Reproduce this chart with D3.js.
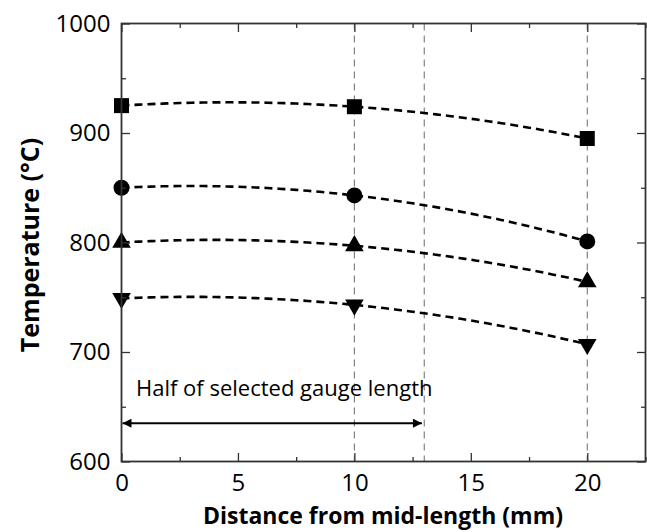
<!DOCTYPE html>
<html>
<head>
<meta charset="utf-8">
<script src="https://cdn.jsdelivr.net/npm/d3@7"></script>
<style>
  html, body { margin: 0; padding: 0; background: #fff; }
  svg { display: block; font-family: "Open Sans", "DejaVu Sans", sans-serif; }
</style>
</head>
<body>
<svg id="chart" width="647" height="532"></svg>
<script>
// Measured temperatures (°C) at three distances from the specimen mid-length (mm)
const distances = [0, 10, 20];
const squareTemps   = [925, 924, 895];
const circleTemps   = [850, 843, 801];
const triUpTemps    = [800, 797, 764];
const triDownTemps  = [749, 743, 707];

const xTicks = [0, 5, 10, 15, 20];
const yTicks = [600, 700, 800, 900, 1000];
const guideLines = [10, 13, 20];          // vertical reference lines
const gaugeHalf = [0, 12.9];              // arrow span: half of selected gauge length
const gaugeLabel = "Half of selected gauge length";

const series = [
  { name: "square",  temps: squareTemps,  symbol: d3.symbolSquare },
  { name: "circle",  temps: circleTemps,  symbol: d3.symbolCircle },
  { name: "triUp",   temps: triUpTemps,   symbol: d3.symbolTriangle },
  { name: "triDown", temps: triDownTemps, symbol: d3.symbolTriangle, flip: true }
];

const svg = d3.select("#chart");
const m = { left: 121.5, right: 645.5, top: 23.5, bottom: 461.5 };

const x = d3.scaleLinear().domain([0, 22.5]).range([m.left, m.right]);
const y = d3.scaleLinear().domain([600, 1000]).range([m.bottom, m.top]);

const axisColor = "#333";

// vertical dashed reference lines
svg.append("g").selectAll("line").data(guideLines).join("line")
  .attr("x1", d => x(d)).attr("x2", d => x(d))
  .attr("y1", y(1000)).attr("y2", y(600))
  .attr("stroke", "#777").attr("stroke-width", 1.1)
  .attr("stroke-dasharray", "7,5");

// quadratic trend through each series (exact fit for three points)
function quadFit(xs, ys) {
  const [x0, x1, x2] = xs, [y0, y1, y2] = ys;
  return t => y0 * (t - x1) * (t - x2) / ((x0 - x1) * (x0 - x2))
            + y1 * (t - x0) * (t - x2) / ((x1 - x0) * (x1 - x2))
            + y2 * (t - x0) * (t - x1) / ((x2 - x0) * (x2 - x1));
}
const line = d3.line().x(d => x(d[0])).y(d => y(d[1]));
series.forEach(s => {
  const f = quadFit(distances, s.temps);
  const pts = d3.range(0, 20.001, 0.25).map(t => [t, f(t)]);
  svg.append("path").datum(pts)
    .attr("d", line)
    .attr("fill", "none").attr("stroke", "#000")
    .attr("stroke-width", 2.6).attr("stroke-dasharray", "8,5");
});

// markers
series.forEach(s => {
  const size = s.symbol === d3.symbolSquare ? 225 : (s.symbol === d3.symbolCircle ? 200 : 150);
  const sym = d3.symbol().type(s.symbol).size(size);
  svg.append("g").selectAll("path").data(distances.map((d, i) => [d, s.temps[i]])).join("path")
    .attr("d", sym)
    .attr("transform", d => `translate(${x(d[0])},${y(d[1])})${s.flip ? " rotate(180)" : ""}`)
    .attr("fill", "#000");
});

// arrow for gauge length
const defs = svg.append("defs");
defs.append("marker").attr("id", "ahEnd").attr("viewBox", "0 0 10 10")
  .attr("refX", 10).attr("refY", 5).attr("markerWidth", 15).attr("markerHeight", 9)
  .attr("markerUnits", "userSpaceOnUse").attr("orient", "auto")
  .append("path").attr("d", "M0,0 L10,5 L0,10 Z").attr("fill", "#000");
defs.append("marker").attr("id", "ahStart").attr("viewBox", "0 0 10 10")
  .attr("refX", 0).attr("refY", 5).attr("markerWidth", 15).attr("markerHeight", 9)
  .attr("markerUnits", "userSpaceOnUse").attr("orient", "auto")
  .append("path").attr("d", "M10,0 L0,5 L10,10 Z").attr("fill", "#000");
svg.append("line")
  .attr("x1", x(gaugeHalf[0]) + 1).attr("x2", x(gaugeHalf[1]))
  .attr("y1", y(635)).attr("y2", y(635))
  .attr("stroke", "#000").attr("stroke-width", 2)
  .attr("marker-start", "url(#ahStart)").attr("marker-end", "url(#ahEnd)");
svg.append("text").attr("x", 136).attr("y", 395.5).text(gaugeLabel)
  .attr("font-size", 22).attr("fill", "#000");

// axes with inward ticks, mirrored on top and right
const minorX = d3.range(0, 22.6, 2.5).filter(v => v % 5 !== 0);
const minorY = d3.range(650, 1000, 100);
function minorTicks(gen, tr, vals) {
  const g = svg.append("g").attr("transform", tr)
    .call(gen.tickValues(vals).tickSize(-4.5).tickFormat(""));
  g.select(".domain").remove();
}
minorTicks(d3.axisBottom(x), `translate(0,${m.bottom})`, minorX);
minorTicks(d3.axisTop(x), `translate(0,${m.top})`, minorX);
minorTicks(d3.axisLeft(y), `translate(${m.left},0)`, minorY);
minorTicks(d3.axisRight(y), `translate(${m.right},0)`, minorY);

const gx = svg.append("g").attr("transform", `translate(0,${m.bottom})`)
  .call(d3.axisBottom(x).tickValues(xTicks).tickSize(-8.5).tickPadding(12).tickFormat(d3.format("d")));
const gxTop = svg.append("g").attr("transform", `translate(0,${m.top})`)
  .call(d3.axisTop(x).tickValues(xTicks).tickSize(-8.5).tickFormat(""));
const gy = svg.append("g").attr("transform", `translate(${m.left},0)`)
  .call(d3.axisLeft(y).tickValues(yTicks).tickSize(-8.5).tickPadding(11).tickFormat(d3.format("d")));
const gyRight = svg.append("g").attr("transform", `translate(${m.right},0)`)
  .call(d3.axisRight(y).tickValues(yTicks).tickSize(-8.5).tickFormat(""));
[gx, gxTop, gy, gyRight].forEach(g => g.select(".domain").remove());

svg.selectAll(".tick line").attr("stroke", axisColor).attr("stroke-width", 1.3);
svg.selectAll(".tick text").attr("font-size", 24).attr("fill", "#000")
  .attr("font-family", "'Open Sans', sans-serif");

// frame
svg.append("rect").attr("x", m.left).attr("y", m.top)
  .attr("width", m.right - m.left).attr("height", m.bottom - m.top)
  .attr("fill", "none").attr("stroke", axisColor).attr("stroke-width", 1.8);

// axis titles
svg.append("text").attr("x", 383).attr("y", 524).attr("text-anchor", "middle")
  .attr("font-size", 23).attr("font-weight", "bold").text("Distance from mid-length (mm)");
svg.append("text").attr("transform", `translate(39,245) rotate(-90)`)
  .attr("text-anchor", "middle")
  .attr("font-size", 25).attr("font-weight", "bold").text("Temperature (°C)");
</script>
</body>
</html>
